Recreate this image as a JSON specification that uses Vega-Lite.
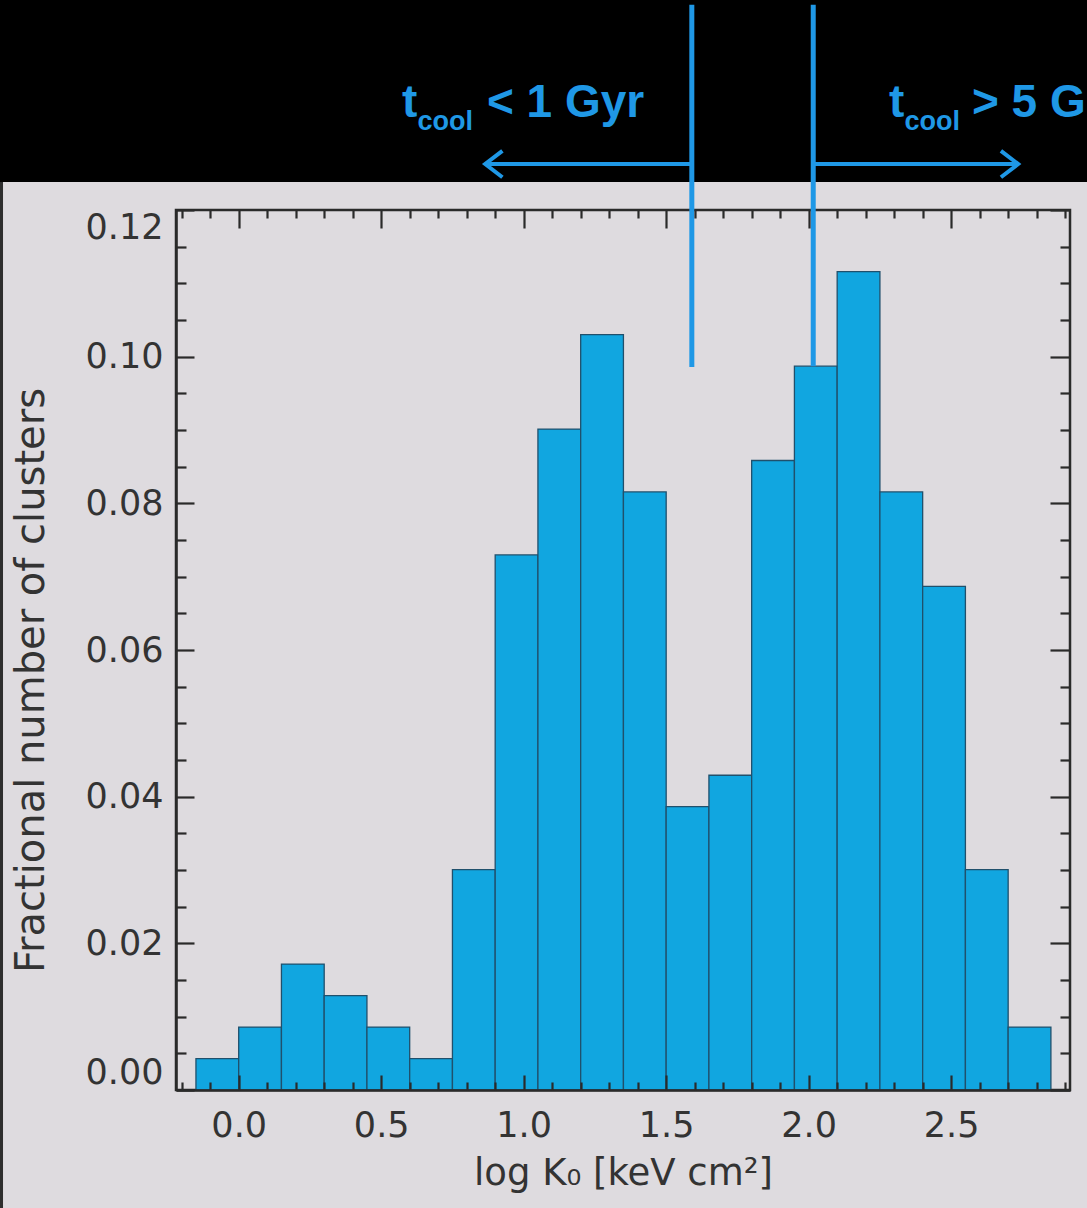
{
  "$schema": "https://vega.github.io/schema/vega-lite/v6.json",
  "autosize": {"type": "none"},
  "padding": {"left": 176, "top": 210, "right": 17, "bottom": 118},
  "width": 894,
  "height": 880,
  "background": "#dedbdf",
  "config": {"view": {"stroke": "#2a2a2a", "strokeWidth": 2.5}},
  "datasets": {
    "bins": [
      {"lo": -0.15, "hi": 0.0, "frac": 0.00429},
      {"lo": 0.0, "hi": 0.15, "frac": 0.00858},
      {"lo": 0.15, "hi": 0.3, "frac": 0.01717},
      {"lo": 0.3, "hi": 0.45, "frac": 0.01288},
      {"lo": 0.45, "hi": 0.6, "frac": 0.00858},
      {"lo": 0.6, "hi": 0.75, "frac": 0.00429},
      {"lo": 0.75, "hi": 0.9, "frac": 0.03004},
      {"lo": 0.9, "hi": 1.05, "frac": 0.07296},
      {"lo": 1.05, "hi": 1.2, "frac": 0.09013},
      {"lo": 1.2, "hi": 1.35, "frac": 0.103},
      {"lo": 1.35, "hi": 1.5, "frac": 0.08155},
      {"lo": 1.5, "hi": 1.65, "frac": 0.03863},
      {"lo": 1.65, "hi": 1.8, "frac": 0.04292},
      {"lo": 1.8, "hi": 1.95, "frac": 0.08584},
      {"lo": 1.95, "hi": 2.1, "frac": 0.09871},
      {"lo": 2.1, "hi": 2.25, "frac": 0.11159},
      {"lo": 2.25, "hi": 2.4, "frac": 0.08155},
      {"lo": 2.4, "hi": 2.55, "frac": 0.06867},
      {"lo": 2.55, "hi": 2.7, "frac": 0.03004},
      {"lo": 2.7, "hi": 2.85, "frac": 0.00858}
    ],
    "band": [{"x1": -1, "x2": 3.3, "y1": 0.12382, "y2": 0.2}],
    "stripe": [{"x1": -1, "x2": -0.827, "y1": -0.1, "y2": 0.12382}],
    "cuts": [
      {"x": 1.59, "ylo": 0.0986, "yhi": 0.148},
      {"x": 2.016, "ylo": 0.0987, "yhi": 0.148}
    ],
    "arrows": [
      {"from": 1.59, "to": 0.865, "y": 0.12627, "dir": "left"},
      {"from": 2.016, "to": 2.735, "y": 0.12627, "dir": "right"}
    ],
    "bigtext": [
      {"x": 0.573, "y": 0.1327, "t": "t"},
      {"x": 0.871, "y": 0.1327, "t": "< 1 Gyr"},
      {"x": 2.282, "y": 0.1327, "t": "t"},
      {"x": 2.573, "y": 0.1327, "t": "> 5 G"}
    ],
    "subtext": [
      {"x": 0.627, "y": 0.1309, "t": "cool"},
      {"x": 2.336, "y": 0.1309, "t": "cool"}
    ]
  },
  "resolve": {"axis": {"x": "independent", "y": "independent"}},
  "layer": [
    {
      "data": {"name": "bins"},
      "mark": {"type": "bar", "color": "#11a6e0", "stroke": "#20506c", "strokeWidth": 1.3},
      "encoding": {
        "x": {"field": "lo", "type": "quantitative",
          "scale": {"domain": [-0.22, 2.917], "nice": false, "zero": false},
          "axis": {"orient": "bottom", "title": "log K₀ [keV cm²]", "values": [0, 0.5, 1, 1.5, 2, 2.5], "format": ".1f",
            "ticks": false, "domain": true, "domainColor": "#2a2a2a", "domainWidth": 2.5, "grid": false, "zindex": 1,
            "labelPadding": 18, "labelFontSize": 35, "labelFont": "DejaVu Sans", "labelColor": "#333333", "labelFlush": false, "labelOverlap": false,
            "titleFont": "DejaVu Sans", "titleFontSize": 37, "titleFontWeight": "normal", "titleColor": "#333333", "titlePadding": 12}},
        "x2": {"field": "hi"},
        "y": {"field": "frac", "type": "quantitative",
          "scale": {"domain": [0, 0.12], "nice": false, "zero": true},
          "axis": {"orient": "left", "title": "Fractional number of clusters", "values": [0, 0.02, 0.04, 0.06, 0.08, 0.1, 0.12], "format": ".2f",
            "ticks": false, "domain": true, "domainColor": "#2a2a2a", "domainWidth": 2.5, "grid": false, "zindex": 1,
            "labelPadding": 13, "labelFontSize": 35, "labelFont": "DejaVu Sans", "labelColor": "#333333", "labelFlush": true, "labelOverlap": false,
            "titleFont": "DejaVu Sans", "titleFontSize": 40, "titleFontWeight": "normal", "titleColor": "#333333", "titlePadding": 34, "titleY": 470}},
        "y2": {"datum": 0}
      }
    },
    {
      "data": {"name": "bins"},
      "mark": {"type": "point", "opacity": 0},
      "encoding": {
        "x": {"field": "lo", "type": "quantitative", "scale": {"domain": [-0.22, 2.917], "nice": false, "zero": false},
          "axis": {"orient": "bottom", "values": [0, 0.5, 1, 1.5, 2, 2.5], "labels": false, "domain": false, "grid": false, "title": null,
            "ticks": true, "tickSize": 15, "offset": -15, "tickColor": "#2a2a2a", "tickWidth": 2.2, "zindex": 1}},
        "y": {"field": "frac", "type": "quantitative", "scale": {"domain": [0, 0.12], "nice": false, "zero": true},
          "axis": {"orient": "left", "values": [0, 0.02, 0.04, 0.06, 0.08, 0.1, 0.12], "labels": false, "domain": false, "grid": false, "title": null,
            "ticks": true, "tickSize": 18, "offset": -18, "tickColor": "#2a2a2a", "tickWidth": 2.2, "zindex": 1}}
      }
    },
    {
      "data": {"name": "bins"},
      "mark": {"type": "point", "opacity": 0},
      "encoding": {
        "x": {"field": "lo", "type": "quantitative", "scale": {"domain": [-0.22, 2.917], "nice": false, "zero": false},
          "axis": {"orient": "bottom", "values": [-0.2, -0.1, 0.1, 0.2, 0.3, 0.4, 0.6, 0.7, 0.8, 0.9, 1.1, 1.2, 1.3, 1.4, 1.6, 1.7, 1.8, 1.9, 2.1, 2.2, 2.3, 2.4, 2.6, 2.7, 2.8, 2.9],
            "labels": false, "domain": false, "grid": false, "title": null,
            "ticks": true, "tickSize": 8, "offset": -8, "tickColor": "#2a2a2a", "tickWidth": 2.2, "zindex": 1}},
        "y": {"field": "frac", "type": "quantitative", "scale": {"domain": [0, 0.12], "nice": false, "zero": true},
          "axis": {"orient": "left", "values": [0.005, 0.01, 0.015, 0.025, 0.03, 0.035, 0.045, 0.05, 0.055, 0.065, 0.07, 0.075, 0.085, 0.09, 0.095, 0.105, 0.11, 0.115],
            "labels": false, "domain": false, "grid": false, "title": null,
            "ticks": true, "tickSize": 10, "offset": -10, "tickColor": "#2a2a2a", "tickWidth": 2.2, "zindex": 1}}
      }
    },
    {
      "data": {"name": "bins"},
      "mark": {"type": "point", "opacity": 0},
      "encoding": {
        "x": {"field": "lo", "type": "quantitative", "scale": {"domain": [-0.22, 2.917], "nice": false, "zero": false},
          "axis": {"orient": "top", "values": [0, 0.5, 1, 1.5, 2, 2.5], "labels": false, "domain": false, "grid": false, "title": null,
            "ticks": true, "tickSize": 18, "offset": -18, "tickColor": "#2a2a2a", "tickWidth": 2.2, "zindex": 1}},
        "y": {"field": "frac", "type": "quantitative", "scale": {"domain": [0, 0.12], "nice": false, "zero": true},
          "axis": {"orient": "right", "values": [0, 0.02, 0.04, 0.06, 0.08, 0.1, 0.12], "labels": false, "domain": false, "grid": false, "title": null,
            "ticks": true, "tickSize": 20, "offset": -20, "tickColor": "#2a2a2a", "tickWidth": 2.2, "zindex": 1}}
      }
    },
    {
      "data": {"name": "bins"},
      "mark": {"type": "point", "opacity": 0},
      "encoding": {
        "x": {"field": "lo", "type": "quantitative", "scale": {"domain": [-0.22, 2.917], "nice": false, "zero": false},
          "axis": {"orient": "top", "values": [-0.2, -0.1, 0.1, 0.2, 0.3, 0.4, 0.6, 0.7, 0.8, 0.9, 1.1, 1.2, 1.3, 1.4, 1.6, 1.7, 1.8, 1.9, 2.1, 2.2, 2.3, 2.4, 2.6, 2.7, 2.8, 2.9],
            "labels": false, "domain": false, "grid": false, "title": null,
            "ticks": true, "tickSize": 8, "offset": -8, "tickColor": "#2a2a2a", "tickWidth": 2.2, "zindex": 1}},
        "y": {"field": "frac", "type": "quantitative", "scale": {"domain": [0, 0.12], "nice": false, "zero": true},
          "axis": {"orient": "right", "values": [0.005, 0.01, 0.015, 0.025, 0.03, 0.035, 0.045, 0.05, 0.055, 0.065, 0.07, 0.075, 0.085, 0.09, 0.095, 0.105, 0.11, 0.115],
            "labels": false, "domain": false, "grid": false, "title": null,
            "ticks": true, "tickSize": 10, "offset": -10, "tickColor": "#2a2a2a", "tickWidth": 2.2, "zindex": 1}}
      }
    },
    {
      "data": {"name": "band"},
      "mark": {"type": "rect", "color": "#000000", "clip": false},
      "encoding": {
        "x": {"field": "x1", "type": "quantitative", "axis": null, "scale": {"domain": [-0.22, 2.917], "nice": false, "zero": false}},
        "x2": {"field": "x2"},
        "y": {"field": "y1", "type": "quantitative", "axis": null, "scale": {"domain": [0, 0.12], "nice": false, "zero": true}},
        "y2": {"field": "y2"}
      }
    },
    {
      "data": {"name": "stripe"},
      "mark": {"type": "rect", "color": "#2e2e2e", "clip": false},
      "encoding": {
        "x": {"field": "x1", "type": "quantitative", "axis": null, "scale": {"domain": [-0.22, 2.917], "nice": false, "zero": false}},
        "x2": {"field": "x2"},
        "y": {"field": "y1", "type": "quantitative", "axis": null, "scale": {"domain": [0, 0.12], "nice": false, "zero": true}},
        "y2": {"field": "y2"}
      }
    },
    {
      "data": {"name": "cuts"},
      "mark": {"type": "rule", "color": "#1f98e6", "strokeWidth": 5, "clip": false},
      "encoding": {
        "x": {"field": "x", "type": "quantitative", "axis": null, "scale": {"domain": [-0.22, 2.917], "nice": false, "zero": false}},
        "y": {"field": "ylo", "type": "quantitative", "axis": null, "scale": {"domain": [0, 0.12], "nice": false, "zero": true}},
        "y2": {"field": "yhi"}
      }
    },
    {
      "data": {"name": "arrows"},
      "mark": {"type": "rule", "color": "#1f98e6", "strokeWidth": 4, "clip": false},
      "encoding": {
        "x": {"field": "from", "type": "quantitative", "axis": null, "scale": {"domain": [-0.22, 2.917], "nice": false, "zero": false}},
        "x2": {"field": "to"},
        "y": {"field": "y", "type": "quantitative", "axis": null, "scale": {"domain": [0, 0.12], "nice": false, "zero": true}}
      }
    },
    {
      "data": {"name": "arrows"},
      "mark": {"type": "point", "filled": false, "opacity": 1, "stroke": "#1f98e6", "strokeWidth": 4, "size": 700, "clip": false},
      "encoding": {
        "x": {"field": "to", "type": "quantitative", "axis": null, "scale": {"domain": [-0.22, 2.917], "nice": false, "zero": false}},
        "y": {"field": "y", "type": "quantitative", "axis": null, "scale": {"domain": [0, 0.12], "nice": false, "zero": true}},
        "shape": {"field": "dir", "type": "nominal", "legend": null,
          "scale": {"domain": ["left", "right"], "range": ["M1.3,-1L0,0L1.3,1", "M-1.3,-1L0,0L-1.3,1"]}}
      }
    },
    {
      "data": {"name": "bigtext"},
      "mark": {"type": "text", "color": "#1f98e6", "font": "Liberation Sans", "fontWeight": "bold", "fontSize": 46, "align": "left", "baseline": "alphabetic", "clip": false},
      "encoding": {
        "x": {"field": "x", "type": "quantitative", "axis": null, "scale": {"domain": [-0.22, 2.917], "nice": false, "zero": false}},
        "y": {"field": "y", "type": "quantitative", "axis": null, "scale": {"domain": [0, 0.12], "nice": false, "zero": true}},
        "text": {"field": "t"}
      }
    },
    {
      "data": {"name": "subtext"},
      "mark": {"type": "text", "color": "#1f98e6", "font": "Liberation Sans", "fontWeight": "bold", "fontSize": 27, "align": "left", "baseline": "alphabetic", "clip": false},
      "encoding": {
        "x": {"field": "x", "type": "quantitative", "axis": null, "scale": {"domain": [-0.22, 2.917], "nice": false, "zero": false}},
        "y": {"field": "y", "type": "quantitative", "axis": null, "scale": {"domain": [0, 0.12], "nice": false, "zero": true}},
        "text": {"field": "t"}
      }
    }
  ]
}
